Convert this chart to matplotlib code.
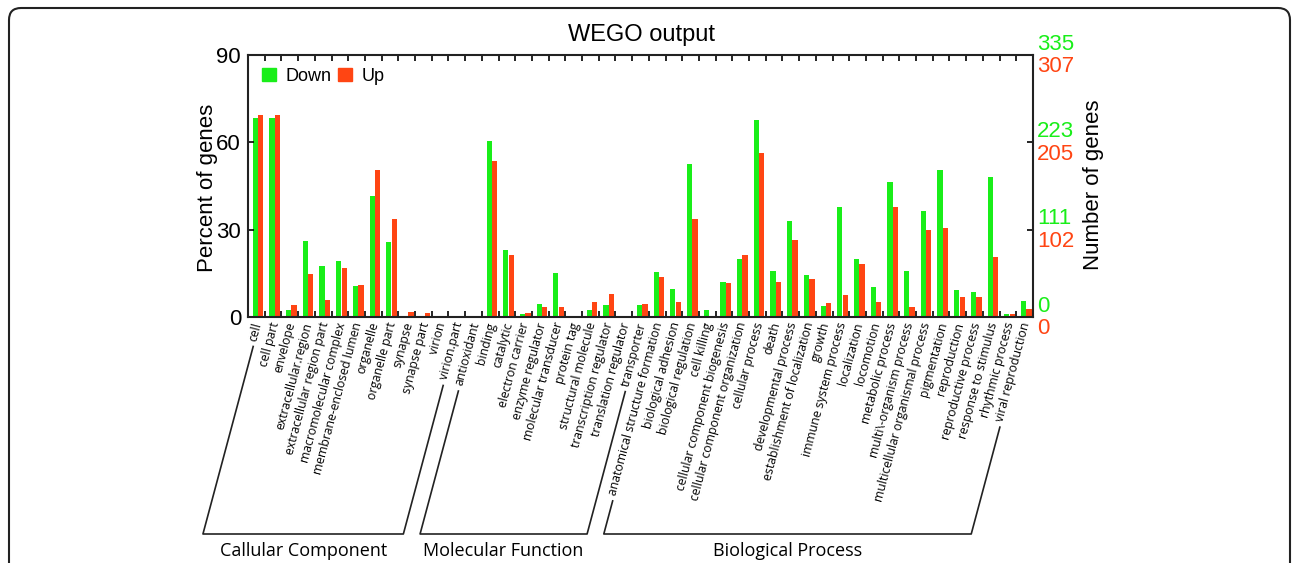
import matplotlib
matplotlib.use("Agg")
import matplotlib.pyplot as plt
import matplotlib.patches as mpatches
from matplotlib.transforms import IdentityTransform
from matplotlib.lines import Line2D
import numpy as np

# GO terms, grouped by ontology
cc_terms = ["cell", "cell part", "envelope", "extracellular.region",
            "extracellular region part", "macromolecular complex",
            "membrane-enclosed lumen", "organelle", "organelle part",
            "synapse", "synapse part", "virion", "virion.part"]
mf_terms = ["antioxidant", "binding", "catalytic", "electron carrier",
            "enzyme regulator", "molecular transducer", "protein tag",
            "structural molecule", "transcription regulator",
            "translation regulator", "transporter"]
bp_terms = ["anatomical structure formation", "biological adhesion",
            "biological regulation", "cell killing",
            "cellular component biogenesis", "cellular component organization",
            "cellular process", "death", "developmental process",
            "establishment of localization", "growth", "immune system process",
            "localization", "locomotion", "metabolic process",
            "multi\\-organism process", "multicellular organismal process",
            "pigmentation", "reproduction", "reproductive process",
            "response to stimulus", "rhythmic process", "viral reproduction"]
group_names = ["Callular Component", "Molecular Function", "Biological Process"]

# percent of genes
down_cc = [68.5, 68.5, 2.5, 26.1, 17.6, 19.2, 10.7, 41.6, 25.9, 0.3, 0.3, 0.0, 0.0]
up_cc = [69.4, 69.4, 4.0, 14.9, 5.7, 17.0, 11.1, 50.4, 33.6, 1.6, 1.4, 0.2, 0.1]
down_mf = [0.3, 60.4, 22.9, 0.9, 4.4, 15.2, 0.0, 2.3, 4.1, 0.0, 4.1]
up_mf = [0.3, 53.6, 21.2, 1.4, 3.3, 3.3, 0.0, 5.0, 7.8, 0.0, 4.5]
down_bp = [15.5, 9.5, 52.7, 2.5, 12.0, 20.0, 67.8, 15.9, 33.1, 14.5, 3.8, 37.7,
           20.0, 10.3, 46.5, 15.7, 36.5, 50.6, 9.3, 8.5, 48.0, 1.1, 5.4]
up_bp = [13.6, 5.0, 33.8, 0.0, 11.6, 21.2, 56.2, 11.9, 26.5, 13.1, 4.8, 7.6,
         18.3, 5.0, 37.8, 3.3, 29.9, 30.5, 6.9, 6.8, 20.6, 0.9, 2.6]

pct_ticks = [0, 30, 60, 90]
down_counts = ["0", "111", "223", "335"]
up_counts = ["0", "102", "205", "307"]

green = "#19ee19"
red = "#ff4513"
label_font = "Open Sans"

terms = cc_terms + mf_terms + bp_terms
down = down_cc + down_mf + down_bp
up = up_cc + up_mf + up_bp
groups = [(0, len(cc_terms) - 1),
          (len(cc_terms), len(cc_terms) + len(mf_terms) - 1),
          (len(cc_terms) + len(mf_terms), len(terms) - 1)]

W, H = 1292, 563
fig = plt.figure(figsize=(W / 100, H / 100), dpi=100)
ax = fig.add_axes([248 / W, 1 - 317 / H, 785 / W, 262 / H])

x = np.arange(len(terms))
ax.bar(x + 0.28, down, width=0.31, align="edge", color=green, label="Down")
ax.bar(x + 0.60, up, width=0.32, align="edge", color=red, label="Up")
ax.set_xlim(0, len(terms))
ax.set_ylim(0, 90)

for s in ax.spines.values():
    s.set_linewidth(1.5)
    s.set_color("#222222")

ax.set_yticks(pct_ticks)
ax.set_yticklabels([str(t) for t in pct_ticks], fontsize=16, family="Liberation Sans")
ax.tick_params(axis="y", direction="in", length=4, width=1.2, pad=5, right=True)

ax.set_xticks(np.arange(len(terms) + 1), minor=True)
ax.tick_params(axis="x", which="minor", direction="in", length=4, width=1.2,
               top=True, bottom=True)
ax.set_xticks(x + 0.62)
ax.set_xticklabels(terms, rotation=75, ha="right", va="center",
                   rotation_mode="anchor", fontsize=8.8, family=label_font,
                   fontstyle="normal")
ax.tick_params(axis="x", which="major", length=0, pad=4)

# right-hand gene counts
for t, dc, uc in zip(pct_ticks, down_counts, up_counts):
    ax.annotate(dc, (1, t), xycoords=("axes fraction", "data"),
                xytext=(4, 11), textcoords="offset pixels", color=green,
                fontsize=16, family="Liberation Sans", ha="left", va="center")
    ax.annotate(uc, (1, t), xycoords=("axes fraction", "data"),
                xytext=(4, -12), textcoords="offset pixels", color=red,
                fontsize=16, family="Liberation Sans", ha="left", va="center")

fig.text(207 / W, 1 - 188 / H, "Percent of genes", rotation=90, fontsize=16,
         family="Liberation Sans", ha="center", va="center")
fig.text(1093 / W, 1 - 185 / H, "Number of genes", rotation=90, fontsize=16,
         family="Liberation Sans", ha="center", va="center")
fig.text(642 / W, 1 - 35 / H, "WEGO output", fontsize=17,
         family="Liberation Sans", ha="center", va="center")

handles = [mpatches.Patch(color=green, label="Down"),
           mpatches.Patch(color=red, label="Up")]
ax.legend(handles=handles, loc="upper left", ncol=2, frameon=False,
          prop={"family": "Liberation Sans", "size": 13},
          handlelength=0.75, handleheight=0.75, handletextpad=0.55,
          columnspacing=0.35, borderaxespad=0.3, bbox_to_anchor=(0.002, 1.0))

# group brackets, following the slant of the labels
fig.canvas.draw()
r = fig.canvas.get_renderer()
labels = ax.get_xticklabels()
cot = 1 / np.tan(np.radians(75))
base_y = H - 534
for (a, b), name in zip(groups, group_names):
    ends = []
    for k in (a, b):
        bb = labels[k].get_window_extent(r)
        sx, sy = bb.x0 + 6, bb.y0 - 4
        ex = sx - (sy - base_y) * cot
        ends.append((sx, sy, ex))
    (sx0, sy0, ex0), (sx1, sy1, ex1) = ends
    xs = [sx0, ex0, ex1, sx1]
    ys = [sy0, base_y, base_y, sy1]
    fig.add_artist(Line2D(xs, ys, transform=IdentityTransform(), color="#222222", lw=1.2))
    fig.text((ex0 + ex1) / 2 / W, 12 / H, name, fontsize=13, family=label_font,
             ha="center", va="center")

frame = mpatches.FancyBboxPatch((9, -20), 1281, H - 8 + 20,
                                boxstyle="round,pad=0,rounding_size=12",
                                transform=IdentityTransform(), fill=False,
                                lw=1.5, ec="#222222")
fig.add_artist(frame)

fig.savefig("out.png", dpi=100)
